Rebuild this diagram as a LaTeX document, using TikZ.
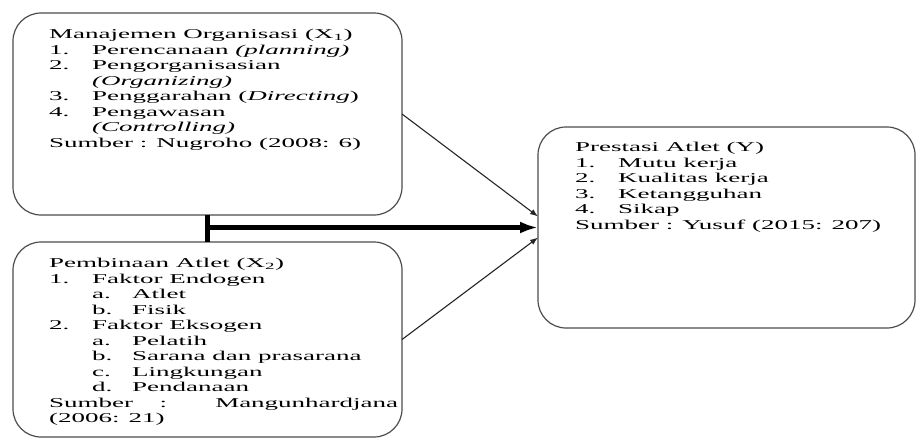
\documentclass[tikz,border=0pt]{standalone}
\usepackage{fontspec}
\setmainfont{Liberation Serif}[FakeStretch=2.0]
\usetikzlibrary{arrows.meta}
\usetikzlibrary{positioning}
\tikzset{
	box/.style = {draw=black!70, line width=1.2pt, rounded corners=28pt, inner sep=0pt, outer sep=0pt},
	txt/.style = {align=left, inner sep=0pt, anchor=north west, font=\fontsize{13.5}{15.5}\selectfont},
	link/.style = {draw=black!85, line width=1.1pt, -{Latex[length=8pt,width=6pt]}},
	bold link/.style = {line width=4.5pt, -{Latex[length=18pt,width=12pt]}}
}
\newcommand{\itm}[2]{\makebox[43pt][l]{#1}#2}
\newcommand{\subitm}[2]{\hspace*{43pt}\makebox[40pt][l]{#1}#2}

\begin{document}
\begin{tikzpicture}[x=1pt,y=-1pt]
	\useasboundingbox (0,0) rectangle (917,439);
	% boxes
	\node[box, minimum width=389pt, minimum height=202pt] (mo) at (207.5,114) {};
	\node[box, minimum width=389pt, minimum height=195pt, below=27pt of mo] (pa) {};
	\node[box, minimum width=377pt, minimum height=201pt] (pr) at (726.5,227.5) {};
	% texts
	\node[txt] (mot) at ([xshift=36pt,yshift=-16pt]mo.north west) {%
		Manajemen Organisasi (X\textsubscript{1})\\
		\itm{1.}{Perencanaan \textit{(planning)}}\\
		\itm{2.}{Pengorganisasian}\\
		\hspace*{43pt}\textit{(Organizing)}\\
		\itm{3.}{Penggarahan (\textit{Directing})}\\
		\itm{4.}{Pengawasan}\\
		\hspace*{43pt}\textit{(Controlling)}\\
		Sumber : Nugroho (2008: 6)};
	\node[txt] (pat) at ([xshift=36pt,yshift=-16pt]pa.north west) {%
		Pembinaan Atlet (X\textsubscript{2})\\
		\itm{1.}{Faktor Endogen}\\
		\subitm{a.}{Atlet}\\
		\subitm{b.}{Fisik}\\
		\itm{2.}{Faktor Eksogen}\\
		\subitm{a.}{Pelatih}\\
		\subitm{b.}{Sarana dan prasarana}\\
		\subitm{c.}{Lingkungan}\\
		\subitm{d.}{Pendanaan}\\
		\makebox[349pt][s]{Sumber : Mangunhardjana}\\
		(2006: 21)};
	\node[txt] (prt) at ([xshift=37pt,yshift=-15pt]pr.north west) {%
		Prestasi Atlet (Y)\\
		\itm{1.}{Mutu kerja}\\
		\itm{2.}{Kualitas kerja}\\
		\itm{3.}{Ketangguhan}\\
		\itm{4.}{Sikap}\\
		Sumber : Yusuf (2015: 207)};
	% connectors
	\draw[line width=4.5pt] (mo.south) -- (pa.north);
	\draw[bold link] (mo.south |- pr.west) -- (pr.west);
	\draw[link] (mo.east) -- ([yshift=11pt]pr.west);
	\draw[link] (pa.east) -- ([yshift=-10pt]pr.west);
\end{tikzpicture}
\end{document}
